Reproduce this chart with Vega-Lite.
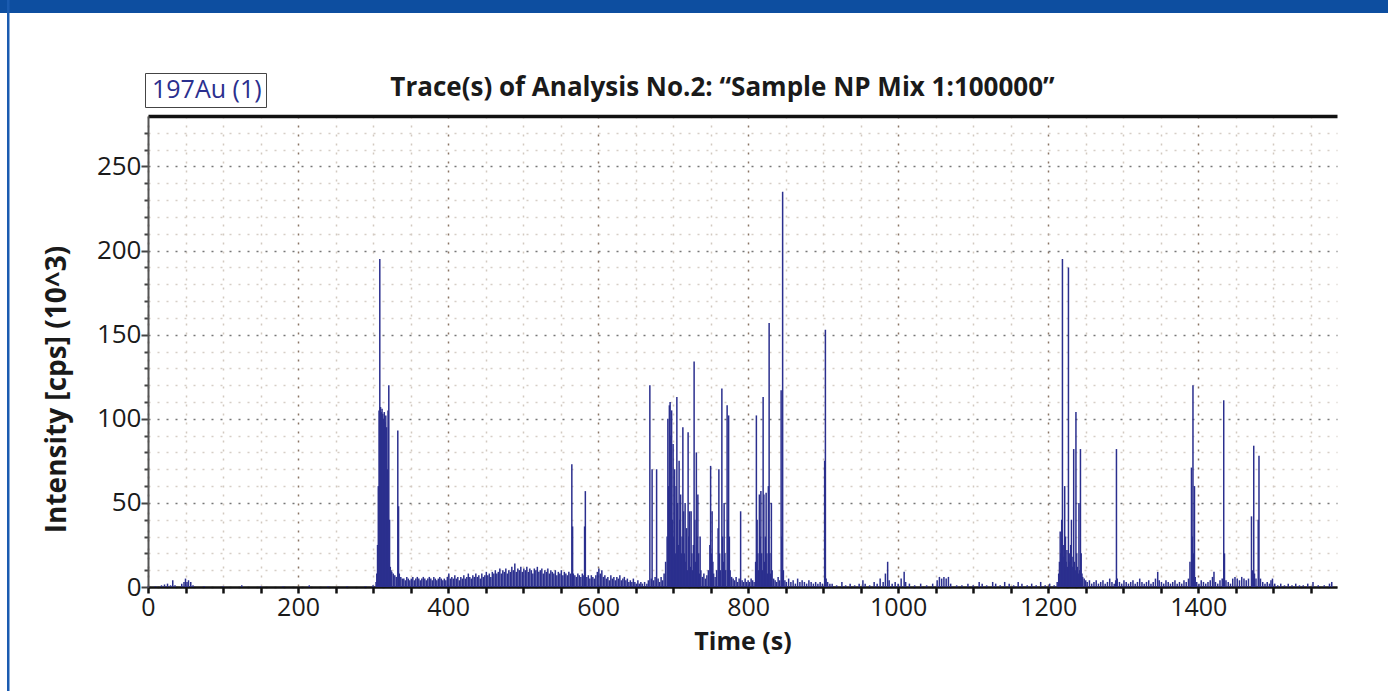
{
  "$schema": "https://vega.github.io/schema/vega-lite/v6.json",
  "width": 1189,
  "height": 471,
  "autosize": "none",
  "padding": {"left": 148, "top": 116, "right": 51, "bottom": 104},
  "background": "white",
  "config": {"view": {"stroke": null}},
  "title": {
    "text": "Trace(s) of Analysis No.2: “Sample NP Mix 1:100000”",
    "font": "Open Sans", "fontSize": 26, "fontWeight": "bold", "color": "#1a1a1a",
    "anchor": "middle", "dx": -20, "dy": 101, "offset": 0
  },
  "data": {"values": [
    {"t":0,"v":0.3},{"t":10,"v":0.5},{"t":18,"v":1},{"t":22,"v":1.5},{"t":26,"v":2},{"t":30,"v":1},{"t":33,"v":4},{"t":36,"v":1},{"t":45,"v":2},{"t":48,"v":3},{"t":50,"v":5},{"t":52,"v":3},{"t":54,"v":4},{"t":57,"v":3},{"t":60,"v":1},{"t":75,"v":0.5},{"t":100,"v":0.5},{"t":125,"v":1},{"t":150,"v":0.5},{"t":180,"v":0.5},{"t":215,"v":1},{"t":240,"v":0.5},{"t":265,"v":0.5},{"t":290,"v":0.5},{"t":300,"v":1},
    {"t":304,"v":3},{"t":305,"v":8},{"t":306,"v":25},{"t":307,"v":60},{"t":308,"v":105},{"t":309,"v":195},{"t":310,"v":107},{"t":311,"v":104},{"t":312,"v":106},{"t":313,"v":103},{"t":314,"v":100},{"t":315,"v":104},{"t":316,"v":98},{"t":317,"v":102},{"t":318,"v":95},{"t":319,"v":70},{"t":320,"v":105},{"t":321,"v":120},{"t":322,"v":40},{"t":323,"v":12},{"t":324,"v":10},{"t":325,"v":9},{"t":327,"v":8},{"t":329,"v":7},{"t":331,"v":6},{"t":333,"v":93},{"t":334,"v":48},{"t":335,"v":8},{"t":337,"v":6},{"t":339,"v":5},
    {"t":341,"v":5},{"t":343,"v":4},{"t":345,"v":6},{"t":347,"v":5},{"t":349,"v":4},{"t":351,"v":5},{"t":353,"v":6},{"t":355,"v":4},{"t":357,"v":5},{"t":359,"v":6},{"t":361,"v":5},{"t":363,"v":4},{"t":365,"v":5},{"t":367,"v":6},{"t":369,"v":5},{"t":371,"v":4},{"t":373,"v":5},{"t":375,"v":6},{"t":377,"v":5},{"t":379,"v":4},{"t":381,"v":6},{"t":383,"v":5},{"t":385,"v":4},{"t":387,"v":5},{"t":389,"v":6},{"t":391,"v":5},{"t":393,"v":4},{"t":395,"v":5},{"t":397,"v":4},{"t":399,"v":6},
    {"t":401,"v":8},{"t":403,"v":5},{"t":405,"v":6},{"t":407,"v":5},{"t":409,"v":7},{"t":411,"v":5},{"t":413,"v":6},{"t":415,"v":4},{"t":417,"v":6},{"t":419,"v":5},{"t":421,"v":7},{"t":423,"v":5},{"t":425,"v":6},{"t":427,"v":8},{"t":429,"v":6},{"t":431,"v":5},{"t":433,"v":7},{"t":435,"v":6},{"t":437,"v":8},{"t":439,"v":6},{"t":441,"v":7},{"t":443,"v":5},{"t":445,"v":8},{"t":447,"v":6},{"t":449,"v":7},{"t":451,"v":9},{"t":453,"v":7},{"t":455,"v":8},{"t":457,"v":6},{"t":459,"v":9},
    {"t":461,"v":8},{"t":463,"v":10},{"t":465,"v":8},{"t":467,"v":9},{"t":469,"v":11},{"t":471,"v":8},{"t":473,"v":10},{"t":475,"v":9},{"t":477,"v":11},{"t":479,"v":8},{"t":481,"v":10},{"t":483,"v":9},{"t":485,"v":12},{"t":487,"v":10},{"t":489,"v":14},{"t":491,"v":9},{"t":493,"v":11},{"t":495,"v":10},{"t":497,"v":12},{"t":499,"v":9},{"t":501,"v":11},{"t":503,"v":10},{"t":505,"v":12},{"t":507,"v":9},{"t":509,"v":11},{"t":511,"v":10},{"t":513,"v":8},{"t":515,"v":11},{"t":517,"v":10},{"t":519,"v":12},
    {"t":521,"v":9},{"t":523,"v":10},{"t":525,"v":11},{"t":527,"v":8},{"t":529,"v":10},{"t":531,"v":9},{"t":533,"v":11},{"t":535,"v":8},{"t":537,"v":10},{"t":539,"v":9},{"t":541,"v":8},{"t":543,"v":10},{"t":545,"v":7},{"t":547,"v":9},{"t":549,"v":8},{"t":551,"v":10},{"t":553,"v":7},{"t":555,"v":9},{"t":557,"v":8},{"t":559,"v":7},{"t":561,"v":9},{"t":563,"v":8},{"t":565,"v":73},{"t":566,"v":36},{"t":567,"v":8},{"t":569,"v":7},{"t":571,"v":6},{"t":573,"v":8},{"t":575,"v":7},{"t":577,"v":6},{"t":579,"v":8},{"t":581,"v":7},{"t":582,"v":36},{"t":583,"v":57},{"t":585,"v":6},{"t":587,"v":7},{"t":589,"v":5},{"t":591,"v":7},{"t":593,"v":6},{"t":595,"v":5},{"t":597,"v":7},{"t":599,"v":9},
    {"t":601,"v":11},{"t":603,"v":8},{"t":605,"v":10},{"t":607,"v":6},{"t":609,"v":7},{"t":611,"v":5},{"t":613,"v":6},{"t":615,"v":4},{"t":617,"v":7},{"t":619,"v":5},{"t":621,"v":6},{"t":623,"v":4},{"t":625,"v":6},{"t":627,"v":5},{"t":629,"v":7},{"t":631,"v":4},{"t":633,"v":5},{"t":635,"v":6},{"t":637,"v":4},{"t":639,"v":5},{"t":641,"v":3},{"t":643,"v":4},{"t":645,"v":3},{"t":647,"v":5},{"t":649,"v":3},{"t":651,"v":2},{"t":653,"v":4},{"t":655,"v":2},{"t":657,"v":3},{"t":659,"v":2},{"t":662,"v":3},{"t":665,"v":2},
    {"t":667,"v":4},{"t":669,"v":120},{"t":671,"v":5},{"t":672,"v":70},{"t":674,"v":4},{"t":676,"v":6},{"t":678,"v":70},{"t":680,"v":5},{"t":682,"v":3},{"t":684,"v":6},{"t":686,"v":4},{"t":688,"v":8},{"t":690,"v":15},{"t":692,"v":30},{"t":693,"v":100},{"t":694,"v":60},{"t":695,"v":108},{"t":696,"v":110},{"t":697,"v":90},{"t":698,"v":105},{"t":699,"v":40},{"t":700,"v":85},{"t":701,"v":30},{"t":702,"v":70},{"t":703,"v":20},{"t":704,"v":60},{"t":705,"v":113},{"t":706,"v":50},{"t":707,"v":25},{"t":708,"v":75},{"t":709,"v":40},{"t":710,"v":55},{"t":711,"v":20},{"t":712,"v":30},{"t":713,"v":95},{"t":714,"v":45},{"t":715,"v":20},{"t":716,"v":50},{"t":717,"v":15},{"t":718,"v":35},{"t":719,"v":10},{"t":720,"v":92},{"t":721,"v":30},{"t":722,"v":45},{"t":723,"v":12},{"t":724,"v":45},{"t":725,"v":20},{"t":726,"v":10},{"t":727,"v":25},{"t":728,"v":134},{"t":729,"v":40},{"t":730,"v":15},{"t":731,"v":80},{"t":732,"v":30},{"t":733,"v":55},{"t":734,"v":20},{"t":735,"v":8},{"t":736,"v":30},{"t":737,"v":10},{"t":739,"v":6},{"t":741,"v":8},{"t":743,"v":5},{"t":745,"v":7},{"t":747,"v":10},{"t":749,"v":25},{"t":750,"v":72},{"t":751,"v":20},{"t":752,"v":45},{"t":753,"v":15},{"t":754,"v":8},{"t":756,"v":6},{"t":758,"v":10},{"t":760,"v":35},{"t":761,"v":70},{"t":762,"v":20},{"t":763,"v":10},{"t":765,"v":118},{"t":766,"v":30},{"t":767,"v":15},{"t":768,"v":50},{"t":769,"v":20},{"t":770,"v":10},{"t":772,"v":108},{"t":773,"v":40},{"t":774,"v":102},{"t":775,"v":30},{"t":776,"v":10},{"t":778,"v":6},{"t":780,"v":5},{"t":782,"v":4},{"t":784,"v":6},{"t":786,"v":3},{"t":788,"v":5},{"t":790,"v":45},{"t":792,"v":4},{"t":794,"v":3},{"t":796,"v":5},{"t":798,"v":3},
    {"t":800,"v":4},{"t":802,"v":3},{"t":804,"v":5},{"t":806,"v":4},{"t":808,"v":3},{"t":810,"v":15},{"t":811,"v":102},{"t":812,"v":40},{"t":813,"v":20},{"t":814,"v":10},{"t":815,"v":55},{"t":816,"v":30},{"t":817,"v":57},{"t":818,"v":20},{"t":819,"v":10},{"t":820,"v":113},{"t":821,"v":55},{"t":822,"v":15},{"t":823,"v":30},{"t":824,"v":56},{"t":825,"v":20},{"t":826,"v":8},{"t":827,"v":60},{"t":828,"v":157},{"t":829,"v":20},{"t":830,"v":8},{"t":831,"v":50},{"t":832,"v":10},{"t":834,"v":5},{"t":836,"v":4},{"t":838,"v":3},{"t":840,"v":6},{"t":842,"v":4},{"t":844,"v":117},{"t":845,"v":30},{"t":846,"v":235},{"t":847,"v":10},{"t":849,"v":4},{"t":851,"v":3},{"t":854,"v":5},{"t":857,"v":3},{"t":860,"v":4},{"t":863,"v":2},{"t":866,"v":5},{"t":869,"v":3},{"t":872,"v":4},{"t":875,"v":3},{"t":878,"v":2},{"t":881,"v":4},{"t":884,"v":3},{"t":887,"v":2},{"t":890,"v":3},{"t":893,"v":2},{"t":896,"v":3},{"t":899,"v":2},{"t":902,"v":75},{"t":903,"v":153},{"t":904,"v":5},{"t":906,"v":3},{"t":909,"v":2},
    {"t":912,"v":2},{"t":918,"v":1},{"t":925,"v":3},{"t":930,"v":1},{"t":936,"v":2},{"t":942,"v":1},{"t":948,"v":2},{"t":953,"v":4},{"t":956,"v":2},{"t":962,"v":1},{"t":968,"v":3},{"t":972,"v":2},{"t":976,"v":5},{"t":980,"v":3},{"t":983,"v":8},{"t":986,"v":15},{"t":988,"v":4},{"t":992,"v":2},{"t":996,"v":3},{"t":1000,"v":2},{"t":1004,"v":5},{"t":1008,"v":9},{"t":1010,"v":3},{"t":1015,"v":2},{"t":1022,"v":1},{"t":1030,"v":2},{"t":1038,"v":1},{"t":1046,"v":2},{"t":1052,"v":4},{"t":1055,"v":6},{"t":1058,"v":5},{"t":1061,"v":6},{"t":1064,"v":5},{"t":1067,"v":6},{"t":1070,"v":2},{"t":1078,"v":1},{"t":1085,"v":1},{"t":1093,"v":2},{"t":1100,"v":1},{"t":1108,"v":3},{"t":1112,"v":2},{"t":1118,"v":1},{"t":1126,"v":3},{"t":1130,"v":2},{"t":1136,"v":1},{"t":1142,"v":3},{"t":1148,"v":2},{"t":1154,"v":1},{"t":1160,"v":3},{"t":1165,"v":2},{"t":1172,"v":1},{"t":1178,"v":2},{"t":1184,"v":1},{"t":1190,"v":3},{"t":1196,"v":1},{"t":1202,"v":2},{"t":1208,"v":1},{"t":1212,"v":3},
    {"t":1214,"v":8},{"t":1215,"v":15},{"t":1216,"v":33},{"t":1217,"v":20},{"t":1218,"v":40},{"t":1219,"v":195},{"t":1220,"v":25},{"t":1221,"v":18},{"t":1222,"v":60},{"t":1223,"v":30},{"t":1224,"v":15},{"t":1225,"v":22},{"t":1226,"v":12},{"t":1227,"v":190},{"t":1228,"v":20},{"t":1229,"v":15},{"t":1230,"v":25},{"t":1231,"v":40},{"t":1232,"v":12},{"t":1233,"v":18},{"t":1234,"v":82},{"t":1235,"v":15},{"t":1236,"v":10},{"t":1237,"v":104},{"t":1238,"v":20},{"t":1239,"v":12},{"t":1240,"v":8},{"t":1241,"v":50},{"t":1242,"v":10},{"t":1243,"v":82},{"t":1244,"v":20},{"t":1245,"v":8},{"t":1246,"v":6},{"t":1248,"v":5},{"t":1250,"v":4},
    {"t":1252,"v":3},{"t":1255,"v":4},{"t":1258,"v":2},{"t":1261,"v":3},{"t":1264,"v":4},{"t":1267,"v":2},{"t":1270,"v":3},{"t":1273,"v":4},{"t":1276,"v":2},{"t":1279,"v":3},{"t":1282,"v":5},{"t":1285,"v":3},{"t":1288,"v":2},{"t":1290,"v":4},{"t":1291,"v":82},{"t":1292,"v":5},{"t":1295,"v":3},{"t":1298,"v":2},{"t":1301,"v":4},{"t":1304,"v":3},{"t":1307,"v":2},{"t":1310,"v":3},{"t":1313,"v":4},{"t":1316,"v":2},{"t":1319,"v":3},{"t":1322,"v":5},{"t":1325,"v":3},{"t":1328,"v":2},{"t":1331,"v":3},{"t":1334,"v":4},{"t":1337,"v":2},{"t":1340,"v":3},{"t":1343,"v":5},{"t":1346,"v":9},{"t":1348,"v":4},{"t":1351,"v":3},{"t":1354,"v":2},{"t":1357,"v":4},{"t":1360,"v":3},{"t":1363,"v":2},{"t":1366,"v":3},{"t":1369,"v":4},{"t":1372,"v":2},{"t":1375,"v":3},{"t":1378,"v":2},{"t":1381,"v":4},{"t":1384,"v":3},{"t":1387,"v":5},{"t":1389,"v":15},{"t":1391,"v":71},{"t":1392,"v":30},{"t":1393,"v":120},{"t":1394,"v":20},{"t":1395,"v":60},{"t":1396,"v":6},{"t":1398,"v":3},
    {"t":1401,"v":2},{"t":1404,"v":4},{"t":1407,"v":3},{"t":1410,"v":2},{"t":1413,"v":3},{"t":1416,"v":4},{"t":1419,"v":6},{"t":1421,"v":9},{"t":1423,"v":3},{"t":1426,"v":2},{"t":1429,"v":4},{"t":1432,"v":5},{"t":1434,"v":111},{"t":1435,"v":20},{"t":1437,"v":4},{"t":1440,"v":3},{"t":1443,"v":2},{"t":1446,"v":5},{"t":1449,"v":6},{"t":1452,"v":5},{"t":1455,"v":4},{"t":1458,"v":6},{"t":1461,"v":5},{"t":1464,"v":4},{"t":1467,"v":5},{"t":1471,"v":42},{"t":1472,"v":10},{"t":1474,"v":84},{"t":1475,"v":8},{"t":1477,"v":5},{"t":1480,"v":40},{"t":1481,"v":78},{"t":1483,"v":5},{"t":1486,"v":3},{"t":1489,"v":2},{"t":1492,"v":3},{"t":1495,"v":2},{"t":1497,"v":4},{"t":1499,"v":5},{"t":1502,"v":2},{"t":1506,"v":1},{"t":1510,"v":2},{"t":1515,"v":1},{"t":1520,"v":2},{"t":1525,"v":1},{"t":1530,"v":2},{"t":1535,"v":1},{"t":1540,"v":1},{"t":1546,"v":2},{"t":1553,"v":3},{"t":1560,"v":1},{"t":1568,"v":1},{"t":1575,"v":2},{"t":1578,"v":3}
  ]},
  "layer": [
    {
      "mark": {"type": "rule", "strokeWidth": 1.5},
      "encoding": {
        "x": {
          "field": "t", "type": "quantitative",
          "scale": {"domain": [0, 1585], "nice": false, "zero": false},
          "axis": {
            "orient": "bottom", "title": "Time (s)",
            "values": [0,50,100,150,200,250,300,350,400,450,500,550,600,650,700,750,800,850,900,950,1000,1050,1100,1150,1200,1250,1300,1350,1400,1450,1500,1550],
            "format": "d",
            "labelExpr": "datum.value % 200 === 0 ? datum.label : ''",
            "labelFont": "Open Sans", "labelFontSize": 25, "labelColor": "#1a1a1a", "labelPadding": 2,
            "labelFlush": false, "labelOverlap": false,
            "titleFont": "Open Sans", "titleFontSize": 25, "titleFontWeight": "bold", "titleColor": "#1a1a1a", "titlePadding": 9,
            "domainColor": "#111111", "domainWidth": 2.5,
            "tickColor": "#111111", "tickWidth": 2.5, "tickSize": 6,
            "grid": true, "gridDash": [2, 7], "gridWidth": 1.5,
            "gridColor": {"condition": {"test": "datum.value % 200 === 0", "value": "#8a7565"}, "value": "#d2c9c0"}
          }
        },
        "y": {
          "field": "v", "type": "quantitative",
          "scale": {"domain": [0, 280], "nice": false},
          "axis": {
            "title": "Intensity [cps] (10^3)",
            "values": [0,10,20,30,40,50,60,70,80,90,100,110,120,130,140,150,160,170,180,190,200,210,220,230,240,250,260,270],
            "labelExpr": "datum.value % 50 === 0 ? datum.label : ''",
            "labelFont": "Open Sans", "labelFontSize": 26, "labelColor": "#1a1a1a", "labelPadding": 0,
            "labelOverlap": false,
            "titleFont": "Open Sans", "titleFontSize": 28, "titleFontWeight": "bold", "titleColor": "#1a1a1a",
            "titleAngle": -90, "titleX": -91, "titleY": 273, "titleAlign": "center", "titleBaseline": "middle",
            "domainColor": "#555555", "domainWidth": 2,
            "tickColor": "#444444", "tickWidth": 2,
            "tickSize": {"condition": {"test": "datum.value % 50 === 0", "value": 7}, "value": 4},
            "grid": true, "gridDash": [2, 7], "gridWidth": 1.5,
            "gridColor": {"condition": {"test": "datum.value % 50 === 0", "value": "#777777"}, "value": "#d6cec6"}
          }
        },
        "y2": {"datum": 0},
        "color": {
          "datum": "197Au (1)", "type": "nominal",
          "scale": {"range": ["#2B2F8E"]},
          "legend": {
            "orient": "none", "legendX": -3, "legendY": -43, "title": null,
            "labelFont": "Open Sans", "labelFontSize": 25, "labelColor": "#2B2F8E",
            "strokeColor": "#444444", "fillColor": "white", "padding": 4,
            "symbolSize": 1, "symbolType": "square", "symbolStrokeWidth": 0, "symbolOpacity": 0, "labelOffset": -22
          }
        }
      }
    },
    {
      "data": {"values": [{"t": 0}]},
      "mark": {"type": "point", "opacity": 0},
      "encoding": {
        "x": {
          "field": "t", "type": "quantitative",
          "scale": {"domain": [0, 1585], "nice": false, "zero": false},
          "axis": {"orient": "top", "labels": false, "ticks": false, "grid": false, "title": null, "domainColor": "#111111", "domainWidth": 3.5}
        },
        "fill": {
          "datum": 1, "type": "quantitative",
          "scale": {"domain": [0, 1], "range": ["#0D4EA0", "#0D4EA0"]},
          "legend": {
            "orient": "none", "legendX": -148, "legendY": -116, "direction": "horizontal",
            "gradientLength": 1388, "gradientThickness": 13, "gradientStrokeWidth": 0,
            "labelOpacity": 0, "labelFontSize": 1, "title": null, "padding": 0
          }
        },
        "stroke": {
          "datum": 2, "type": "quantitative",
          "scale": {"domain": [0, 2], "range": ["#1A5BB0", "#1A5BB0"]},
          "legend": {
            "orient": "none", "legendX": -141, "legendY": -116, "direction": "vertical",
            "gradientLength": 691, "gradientThickness": 2.5, "gradientStrokeWidth": 0,
            "labelOpacity": 0, "labelFontSize": 1, "title": null, "padding": 0
          }
        }
      }
    }
  ],
  "resolve": {"axis": {"x": "independent"}}
}
